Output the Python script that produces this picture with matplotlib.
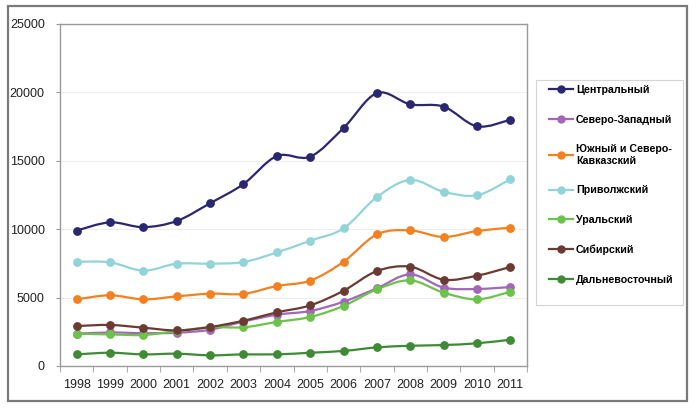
import numpy as np
import matplotlib
matplotlib.use("Agg")
import matplotlib.pyplot as plt
from matplotlib.path import Path
from matplotlib.patches import PathPatch, Rectangle
from matplotlib.lines import Line2D

plt.rcParams['font.family'] = ['Liberation Sans', 'DejaVu Sans']

years = [1998, 1999, 2000, 2001, 2002, 2003, 2004, 2005, 2006, 2007, 2008, 2009, 2010, 2011]

central = [9900, 10500, 10150, 10600, 11900, 13300, 15350, 15300, 17400, 19950, 19130, 18960, 17520, 18000]
north_west = [2360, 2450, 2400, 2430, 2650, 3250, 3750, 4020, 4700, 5680, 6700, 5730, 5630, 5770]
south = [4870, 5170, 4870, 5090, 5290, 5270, 5850, 6240, 7620, 9620, 9910, 9430, 9870, 10110]
volga = [7620, 7580, 6970, 7480, 7480, 7600, 8300, 9160, 10060, 12350, 13600, 12740, 12480, 13650]
ural = [2360, 2310, 2270, 2550, 2830, 2830, 3220, 3580, 4390, 5600, 6260, 5360, 4870, 5430]
siberia = [2920, 3000, 2800, 2600, 2850, 3310, 3920, 4430, 5500, 6940, 7260, 6310, 6600, 7240]
far_east = [850, 970, 850, 900, 780, 850, 850, 970, 1100, 1360, 1480, 1530, 1660, 1920]

names = ['Центральный', 'Северо-Западный', 'Южный и Северо-\nКавказский', 'Приволжский',
         'Уральский', 'Сибирский', 'Дальневосточный']
series = [central, north_west, south, volga, ural, siberia, far_east]
colors = ['#2b2670', '#a267b8', '#f5801f', '#92d4d8', '#6cc24a', '#6b3a32', '#3f8a34']


def smooth_path(x, y):
    # excel-like smoothed line as cubic bezier segments
    pts = np.column_stack([x, y]).astype(float)
    n = len(pts)
    verts = [pts[0]]
    codes = [Path.MOVETO]
    for i in range(n - 1):
        p0 = pts[i - 1] if i > 0 else pts[i]
        p1 = pts[i]
        p2 = pts[i + 1]
        p3 = pts[i + 2] if i + 2 < n else pts[i + 1]
        c1 = p1 + (p2 - p0) / 6.0
        c2 = p2 - (p3 - p1) / 6.0
        verts += [c1, c2, p2]
        codes += [Path.CURVE4] * 3
    return Path(verts, codes)


fig = plt.figure(figsize=(7, 4.08), dpi=100)
# outer chart border
fig.patches.append(Rectangle((8 / 700, 7 / 408), 679 / 700, 395 / 408, transform=fig.transFigure,
                             fill=False, edgecolor='#7a7a7a', linewidth=1.6))
# legend box
fig.patches.append(Rectangle((536 / 700, 1 - 305 / 408), 147 / 700, 225 / 408, transform=fig.transFigure,
                             fill=False, edgecolor='#d4d4d4', linewidth=0.8))

ax = fig.add_axes([60 / 700, 42 / 408, 467 / 700, 342 / 408])
x = np.arange(1, len(years) + 1)

for vals, c in zip(series, colors):
    ax.add_patch(PathPatch(smooth_path(x, vals), facecolor='none', edgecolor=c, linewidth=1.6, zorder=3))
    ax.plot(x, vals, 'o', color=c, markersize=5.3, zorder=4)

ax.set_xlim(0.5, len(years) + 0.5)
ax.set_ylim(0, 25000)
ax.set_yticks(range(0, 25001, 5000))
ax.set_xticks(x)
ax.set_xticklabels(years)
ax.set_xticks(np.arange(0.5, len(years) + 1), minor=True)
ax.tick_params(axis='x', which='major', length=0, pad=9, labelsize=9, labelcolor='#222222')
ax.tick_params(axis='x', which='minor', length=4, color='#9a9a9a')
ax.tick_params(axis='y', length=3, color='#9a9a9a', labelsize=9, labelcolor='#222222', pad=8)
ax.grid(axis='y', color='#eeeeee', linewidth=0.8)
ax.set_axisbelow(True)
for s in ax.spines.values():
    s.set_color('#9a9a9a')
    s.set_linewidth(1.0)

handles = [Line2D([0], [0], color=c, marker='o', markersize=5, linewidth=1.6) for c in colors]
leg = fig.legend(handles, names, loc='upper left', bbox_to_anchor=(540 / 700, 1 - 76 / 408),
                 frameon=False, handlelength=2.2, labelspacing=1.83,
                 handletextpad=0.3, borderpad=0.35, prop={'weight': 'bold', 'size': 7.7})

fig.savefig('out.png', dpi=100)
